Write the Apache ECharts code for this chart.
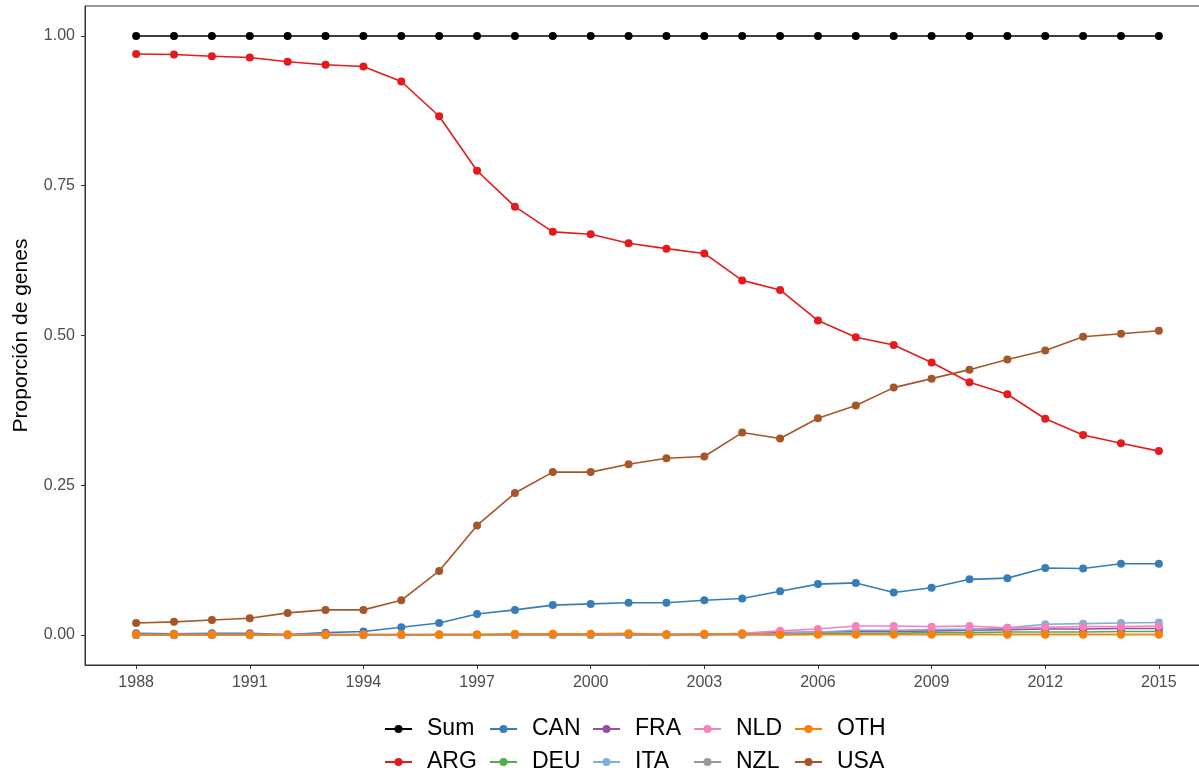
<!DOCTYPE html>
<html>
<head>
<meta charset="utf-8">
<script src="https://cdn.jsdelivr.net/npm/echarts@6/dist/echarts.min.js"></script>
<style>
  html, body { margin: 0; padding: 0; background: #fff; }
  #chart { width: 1199px; height: 773px; }
</style>
</head>
<body>
<div id="chart"></div>
<script>
// Proporción de genes por país, 1988-2015
var YEARS = [];
for (var yr = 1988; yr <= 2015; yr++) YEARS.push(yr);

var X_TICKS = [1988, 1991, 1994, 1997, 2000, 2003, 2006, 2009, 2012, 2015];
var Y_TICKS = [0, 0.25, 0.5, 0.75, 1];

var SUM = [1, 1, 1, 1, 1, 1, 1, 1, 1, 1, 1, 1, 1, 1, 1, 1, 1, 1, 1, 1, 1, 1, 1, 1, 1, 1, 1, 1];
var ARG = [0.970, 0.969, 0.966, 0.964, 0.957, 0.952, 0.949, 0.924, 0.866, 0.775, 0.715, 0.673, 0.669, 0.654,
           0.645, 0.637, 0.592, 0.576, 0.525, 0.497, 0.484, 0.455, 0.422, 0.402, 0.361, 0.334, 0.320, 0.307];
var CAN = [0.003, 0.002, 0.003, 0.003, 0.001, 0.004, 0.006, 0.013, 0.020, 0.035, 0.042, 0.050, 0.052, 0.054,
           0.054, 0.058, 0.061, 0.073, 0.085, 0.087, 0.071, 0.079, 0.093, 0.095, 0.112, 0.111, 0.119, 0.119];
var DEU = [0.000, 0.000, 0.000, 0.000, 0.000, 0.000, 0.000, 0.000, 0.001, 0.001, 0.001, 0.001, 0.001, 0.001,
           0.001, 0.001, 0.002, 0.002, 0.003, 0.003, 0.003, 0.004, 0.004, 0.005, 0.005, 0.005, 0.006, 0.006];
var FRA = [0.000, 0.000, 0.000, 0.000, 0.000, 0.000, 0.000, 0.000, 0.000, 0.000, 0.001, 0.001, 0.001, 0.001,
           0.001, 0.001, 0.002, 0.004, 0.005, 0.006, 0.006, 0.007, 0.008, 0.009, 0.010, 0.010, 0.011, 0.011];
var ITA = [0.000, 0.000, 0.000, 0.000, 0.000, 0.000, 0.000, 0.000, 0.000, 0.000, 0.000, 0.000, 0.000, 0.000,
           0.000, 0.001, 0.002, 0.003, 0.005, 0.008, 0.008, 0.009, 0.010, 0.012, 0.018, 0.019, 0.020, 0.021];
var NLD = [0.001, 0.001, 0.001, 0.001, 0.001, 0.001, 0.001, 0.001, 0.001, 0.001, 0.001, 0.001, 0.001, 0.001,
           0.001, 0.001, 0.003, 0.007, 0.010, 0.015, 0.015, 0.014, 0.015, 0.012, 0.013, 0.014, 0.014, 0.015];
var NZL = [0.000, 0.000, 0.000, 0.000, 0.000, 0.000, 0.000, 0.000, 0.000, 0.000, 0.000, 0.000, 0.000, 0.000,
           0.000, 0.000, 0.000, 0.000, 0.001, 0.001, 0.001, 0.001, 0.001, 0.001, 0.001, 0.001, 0.001, 0.001];
var OTH = [0.001, 0.001, 0.001, 0.001, 0.001, 0.001, 0.001, 0.001, 0.001, 0.001, 0.002, 0.002, 0.002, 0.003,
           0.001, 0.002, 0.002, 0.001, 0.001, 0.001, 0.001, 0.001, 0.001, 0.001, 0.001, 0.001, 0.001, 0.001];
var USA = [0.020, 0.022, 0.025, 0.028, 0.037, 0.042, 0.042, 0.058, 0.107, 0.183, 0.237, 0.272, 0.272, 0.285,
           0.295, 0.298, 0.338, 0.328, 0.362, 0.383, 0.413, 0.428, 0.443, 0.460, 0.475, 0.498, 0.503, 0.508];

var SERIES = [
  { name: "Sum", data: SUM, color: "#000000" },
  { name: "ARG", data: ARG, color: "#E41A1C" },
  { name: "CAN", data: CAN, color: "#377EB8" },
  { name: "DEU", data: DEU, color: "#4DAF4A" },
  { name: "FRA", data: FRA, color: "#984EA3" },
  { name: "ITA", data: ITA, color: "#80B1D3" },
  { name: "NLD", data: NLD, color: "#F781BF" },
  { name: "NZL", data: NZL, color: "#999999" },
  { name: "OTH", data: OTH, color: "#FF7F00" },
  { name: "USA", data: USA, color: "#A65628" }
];

// ggplot fills the legend column by column: 2 rows x 5 columns
var LEGEND_COLS = [["Sum", "ARG"], ["CAN", "DEU"], ["FRA", "ITA"], ["NLD", "NZL"], ["OTH", "USA"]];
var LEGEND_LEFT = [379, 484, 587, 688, 789];

var FONT = "Liberation Sans, Arial, sans-serif";

var chart = echarts.init(document.getElementById("chart"));

chart.setOption({
  backgroundColor: "#ffffff",
  animation: false,
  textStyle: { fontFamily: FONT },
  grid: {
    left: 85, right: -11, top: 6, bottom: 108, outerBoundsMode: "none",
    show: true, borderColor: "#333333", borderWidth: 1
  },
  legend: LEGEND_COLS.map(function (col, i) {
    return {
      orient: "vertical", left: LEGEND_LEFT[i], top: 712, height: 100,
      data: col, itemWidth: 27, itemHeight: 10, itemGap: 9,
      selectedMode: false,
      textStyle: { fontSize: 23, color: "#000", fontFamily: FONT, lineHeight: 24, padding: [0, 0, 0, 10] }
    };
  }),
  xAxis: {
    type: "value", min: 1986.65, max: 2016.35,
    splitLine: { show: false },
    axisLine: { show: true, onZero: false, lineStyle: { color: "#333333" } },
    axisTick: { show: true, length: 4, customValues: X_TICKS, lineStyle: { color: "#333333" } },
    axisLabel: {
      customValues: X_TICKS, margin: 10, fontSize: 16, color: "#4d4d4d",
      formatter: function (v) { return String(v); }
    }
  },
  yAxis: {
    type: "value", min: -0.05, max: 1.05,
    name: "Proporción de genes", nameLocation: "middle", nameGap: 53,
    nameTextStyle: { fontSize: 21, color: "#000", fontFamily: FONT },
    splitLine: { show: false },
    axisLine: { show: true, onZero: false, lineStyle: { color: "#333333" } },
    axisTick: { show: true, length: 4, customValues: Y_TICKS, lineStyle: { color: "#333333" } },
    axisLabel: {
      customValues: Y_TICKS, margin: 10, fontSize: 16, color: "#4d4d4d",
      formatter: function (v) { return v.toFixed(2); }
    }
  },
  series: SERIES.map(function (s) {
    return {
      name: s.name, type: "line",
      data: s.data.map(function (v, i) { return [YEARS[i], v]; }),
      symbol: "circle", symbolSize: 8, showSymbol: true,
      itemStyle: { color: s.color },
      lineStyle: { color: s.color, width: 1.6 },
      emphasis: { disabled: true }
    };
  })
});
</script>
</body>
</html>
